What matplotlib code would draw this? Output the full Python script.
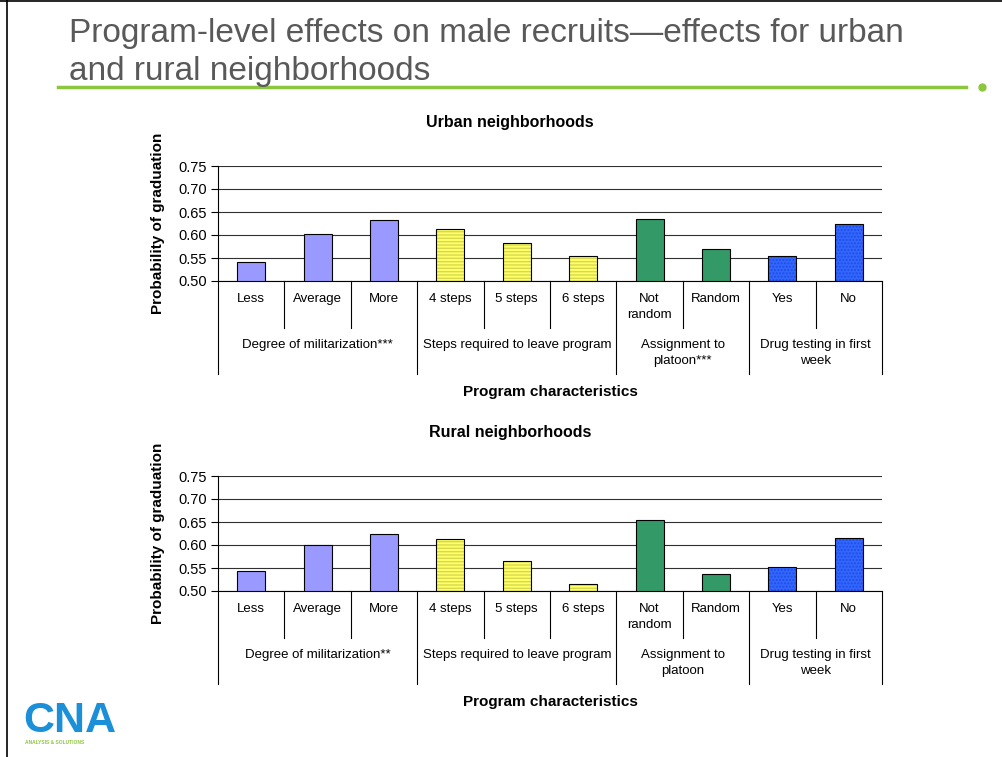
import matplotlib
matplotlib.use("Agg")
import matplotlib.pyplot as plt
from matplotlib.lines import Line2D
import matplotlib.transforms as mtransforms

plt.rcParams["font.family"] = ["Liberation Sans", "DejaVu Sans"]

# data
categories = ["Less", "Average", "More", "4 steps", "5 steps", "6 steps",
              "Not\nrandom", "Random", "Yes", "No"]
urban = [0.542, 0.602, 0.632, 0.612, 0.583, 0.555, 0.635, 0.570, 0.555, 0.623]
rural = [0.544, 0.599, 0.623, 0.614, 0.565, 0.515, 0.655, 0.537, 0.552, 0.616]
group_sizes = [3, 3, 2, 2]
urban_groups = ["Degree of militarization***", "Steps required to leave program",
                "Assignment to\nplatoon***", "Drug testing in first\nweek"]
rural_groups = ["Degree of militarization**", "Steps required to leave program",
                "Assignment to\nplatoon", "Drug testing in first\nweek"]
yticks = [0.50, 0.55, 0.60, 0.65, 0.70, 0.75]

# fill, hatch colour, hatch per group
group_styles = [
    ("#9999FF", None, None),
    ("#FFFF66", "#D8D850", "-----"),
    ("#339966", None, None),
    ("#3366FF", "#1F4FE0", "....."),
]

W, H = 1003, 757
fig = plt.figure(figsize=(W / 100, H / 100), dpi=100)


def fx(px):
    return px / W


def fy(py):
    return 1 - py / H


def draw_panel(top_px, values, groups, title):
    ax_h = 115
    ax = fig.add_axes([fx(218), fy(top_px + ax_h), fx(882) - fx(218), ax_h / H])
    ax.set_xlim(-0.5, len(categories) - 0.5)
    ax.set_ylim(0.50, 0.75)
    ax.set_yticks(yticks)
    ax.set_yticklabels([f"{v:.2f}" for v in yticks], fontsize=10.5)
    ax.tick_params(axis="y", length=5, width=0.8, pad=3)
    ax.set_xticks([])
    for s in ["top", "right"]:
        ax.spines[s].set_visible(False)
    ax.spines["left"].set_linewidth(0.8)
    ax.spines["bottom"].set_linewidth(0.8)
    ax.yaxis.grid(True, color="#303030", linewidth=0.8)
    ax.set_axisbelow(True)

    start = 0
    for size, (fc, hc, hatch) in zip(group_sizes, group_styles):
        xs = list(range(start, start + size))
        hs = [values[i] - 0.50 for i in xs]
        if hatch:
            ax.bar(xs, hs, width=0.42, bottom=0.50, color=fc, edgecolor=hc,
                   hatch=hatch, linewidth=0, zorder=2)
            ax.bar(xs, hs, width=0.42, bottom=0.50, fill=False,
                   edgecolor="black", linewidth=0.8, zorder=3)
        else:
            ax.bar(xs, hs, width=0.42, bottom=0.50, color=fc,
                   edgecolor="black", linewidth=0.8, zorder=3)
        start += size

    fig.text(fx(510), fy(top_px - 43), title, fontsize=11.5, fontweight="bold",
             ha="center", va="center")
    fig.text(fx(158), fy(top_px + 57), "Probability of graduation", fontsize=11,
             fontweight="bold", rotation=90, ha="center", va="center")

    trans = mtransforms.blended_transform_factory(ax.transData, ax.transAxes)
    # multi-level category axis
    for i, lab in enumerate(categories):
        ax.text(i, -12 / ax_h, lab, transform=trans, ha="center", va="top",
                fontsize=9.5, linespacing=1.45)
    start = 0
    bounds = [-0.5]
    for size, lab in zip(group_sizes, groups):
        center = start + (size - 1) / 2
        ax.text(center, -58 / ax_h, lab, transform=trans, ha="center",
                va="top", fontsize=9.5, linespacing=1.45)
        for k in range(1, size):
            x = start + k - 0.5
            ax.add_line(Line2D([x, x], [0, -47 / ax_h], transform=trans,
                               color="black", linewidth=0.8, clip_on=False))
        start += size
        bounds.append(start - 0.5)
    for x in bounds:
        ax.add_line(Line2D([x, x], [0, -93 / ax_h], transform=trans,
                           color="black", linewidth=0.8, clip_on=False))
    fig.text(fx(550), fy(top_px + ax_h + 111), "Program characteristics",
             ha="center", va="center", fontsize=11, fontweight="bold")
    return ax


draw_panel(166, urban, urban_groups, "Urban neighborhoods")
draw_panel(476, rural, rural_groups, "Rural neighborhoods")

# slide decoration
fig.text(fx(69), fy(42), "Program-level effects on male recruits\u2014effects for urban",
         fontsize=24, color="#595959", va="baseline", ha="left")
fig.text(fx(69), fy(80), "and rural neighborhoods",
         fontsize=24, color="#595959", va="baseline", ha="left")
fig.add_artist(Line2D([fx(58), fx(966)], [fy(87), fy(87)], color="#8CC63F",
                      linewidth=2.5))
fig.add_artist(Line2D([fx(982)], [fy(87)], marker="o", markersize=5,
                      color="#8CC63F", linestyle="none"))
fig.add_artist(Line2D([fx(7), fx(7)], [0, 1], color="black", linewidth=1.2))
fig.add_artist(Line2D([0, 1], [fy(0.5), fy(0.5)], color="black", linewidth=1.2))

fig.text(fx(23), fy(721), "CNA", fontsize=31, fontweight="bold",
         color="#1B8FD8", va="center", ha="left")
fig.text(fx(25), fy(742), "ANALYSIS & SOLUTIONS", fontsize=3.5,
         fontweight="bold", color="#8CC63F", va="center", ha="left")

fig.savefig("out.png", dpi=100)
